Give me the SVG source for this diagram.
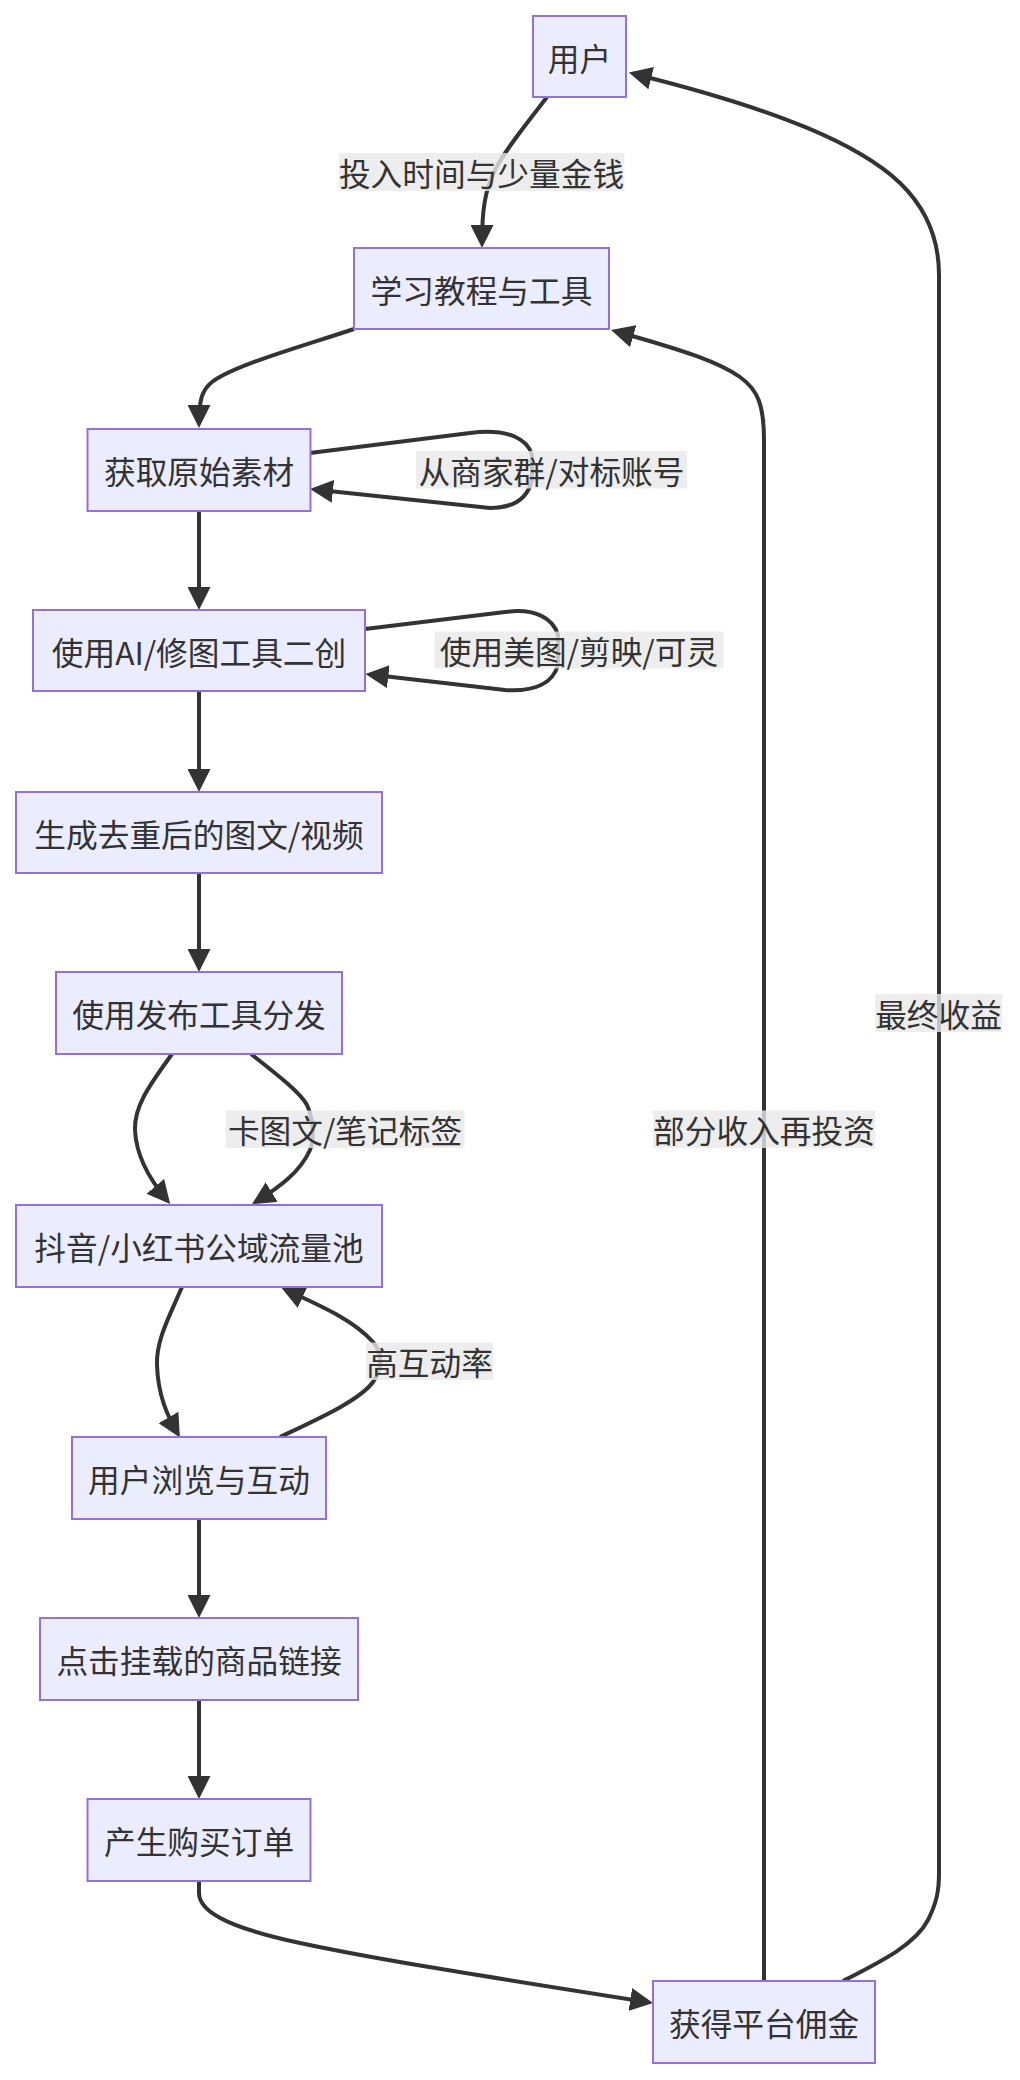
<svg xmlns="http://www.w3.org/2000/svg" width="1020" height="2080" viewBox="0 0 1020 2080">
<style>
.node rect{fill:#ECECFF;stroke:#9370DB;stroke-width:2;}
.node text,.label text{font-family:"Noto Sans CJK SC","Noto Sans",sans-serif;font-size:31.7px;fill:#333;text-anchor:middle;dominant-baseline:central;}
.edges path{fill:none;stroke:#333;stroke-width:4;}
.label rect{fill:rgba(232,232,232,0.8);}
</style>
<defs>
<marker id="arrow" viewBox="0 0 10 10" refX="8" refY="5" markerUnits="userSpaceOnUse" markerWidth="23" markerHeight="23" orient="auto"><path d="M0,0 L10,5 L0,10 z" fill="#333"/></marker>
</defs>
<rect width="1020" height="2080" fill="#fff"/>
<g class="edges" id="edges">
<path marker-end="url(#arrow)" d="M547,97 C525,126 505,150 495,170 C485,190 482,210 482,243.4"/>
<path marker-end="url(#arrow)" d="M354,329 C300,347 235,365 212,382 C202,390 199,400 199,423.4"/>
<path marker-end="url(#arrow)" d="M310,453 L470,433 C510,428 528,440 532,455 L532,480 C528,497 515,508 490,508 L314.6,489.5"/>
<path marker-end="url(#arrow)" d="M199,511 L199,605.4"/>
<path marker-end="url(#arrow)" d="M365,629 L505,612 C535,608 553,618 558,635 L558,665 C553,683 535,692 505,690 L370,674.6"/>
<path marker-end="url(#arrow)" d="M199,691 L199,787.4"/>
<path marker-end="url(#arrow)" d="M199,873 L199,967.4"/>
<path marker-end="url(#arrow)" d="M172,1054 C152,1082 134,1105 135,1130 C136,1155 150,1180 167.2,1200.4"/>
<path marker-end="url(#arrow)" d="M251,1054 C275,1073 300,1092 307,1105 C314,1120 314,1140 310,1150 C300,1172 280,1187 256,1201.7"/>
<path marker-end="url(#arrow)" d="M182,1287 C170,1315 156,1340 157,1365 C158,1395 167,1415 177.6,1433.4"/>
<path marker-end="url(#arrow)" d="M280,1437 C320,1418 360,1400 373,1382 C385,1365 380,1350 373,1342 C355,1322 330,1310 285.8,1289.8"/>
<path marker-end="url(#arrow)" d="M199,1519 L199,1613.4"/>
<path marker-end="url(#arrow)" d="M199,1700 L199,1794.4"/>
<path marker-end="url(#arrow)" d="M199,1881 L199,1893 C199,1915 240,1930 300,1943 C370,1958 450,1971 648.5,2002.3"/>
<path marker-end="url(#arrow)" d="M764,1981 L764,440 C764,405 758,390 740,377 C720,363 690,352 615.5,331.2"/>
<path marker-end="url(#arrow)" d="M843,1981 C880,1962 915,1945 928,1920 C937,1902 939,1890 939,1873 L939,275 C939,240 928,210 900,183 C860,145 780,110 633.3,73.7"/>
</g>
<g class="label" id="label-1"><rect x="338.8" y="153" width="285.4" height="38"/><text x="481.5" y="172">投入时间与少量金钱</text></g>
<g class="label" id="label-2"><rect x="416" y="451" width="271" height="37.5"/><text x="551.5" y="469.7">从商家群/对标账号</text></g>
<g class="label" id="label-3"><rect x="434.5" y="631.5" width="289" height="37"/><text x="579" y="650">使用美图/剪映/可灵</text></g>
<g class="label" id="label-4"><rect x="225.5" y="1110.5" width="239" height="37.5"/><text x="345" y="1129.2">卡图文/笔记标签</text></g>
<g class="label" id="label-5"><rect x="366" y="1342.5" width="127" height="37.5"/><text x="429.5" y="1361.2">高互动率</text></g>
<g class="label" id="label-6"><rect x="653" y="1110.5" width="222" height="37.5"/><text x="764" y="1129.2">部分收入再投资</text></g>
<g class="label" id="label-7"><rect x="875" y="994" width="127" height="38"/><text x="938.5" y="1013">最终收益</text></g>
<g class="node" id="n-user"><rect x="533" y="16" width="93" height="81"/><text x="579.5" y="56.5">用户</text></g>
<g class="node" id="n-learn"><rect x="354" y="248" width="255" height="81"/><text x="481.5" y="288.5">学习教程与工具</text></g>
<g class="node" id="n-source"><rect x="87.5" y="429" width="223" height="82"/><text x="199" y="470">获取原始素材</text></g>
<g class="node" id="n-ai"><rect x="33" y="610" width="332" height="81"/><text x="199" y="650.5">使用AI/修图工具二创</text></g>
<g class="node" id="n-gen"><rect x="16" y="792" width="366" height="81"/><text x="199" y="832.5">生成去重后的图文/视频</text></g>
<g class="node" id="n-pub"><rect x="56" y="972" width="286" height="82"/><text x="199" y="1013">使用发布工具分发</text></g>
<g class="node" id="n-pool"><rect x="16" y="1205" width="366" height="82"/><text x="199" y="1246">抖音/小红书公域流量池</text></g>
<g class="node" id="n-browse"><rect x="72" y="1437" width="254" height="82"/><text x="199" y="1478">用户浏览与互动</text></g>
<g class="node" id="n-click"><rect x="40" y="1618" width="318" height="82"/><text x="199" y="1659">点击挂载的商品链接</text></g>
<g class="node" id="n-order"><rect x="87.5" y="1799" width="223" height="82"/><text x="199" y="1840">产生购买订单</text></g>
<g class="node" id="n-comm"><rect x="653" y="1981" width="222" height="82"/><text x="764" y="2022">获得平台佣金</text></g>
</svg>
